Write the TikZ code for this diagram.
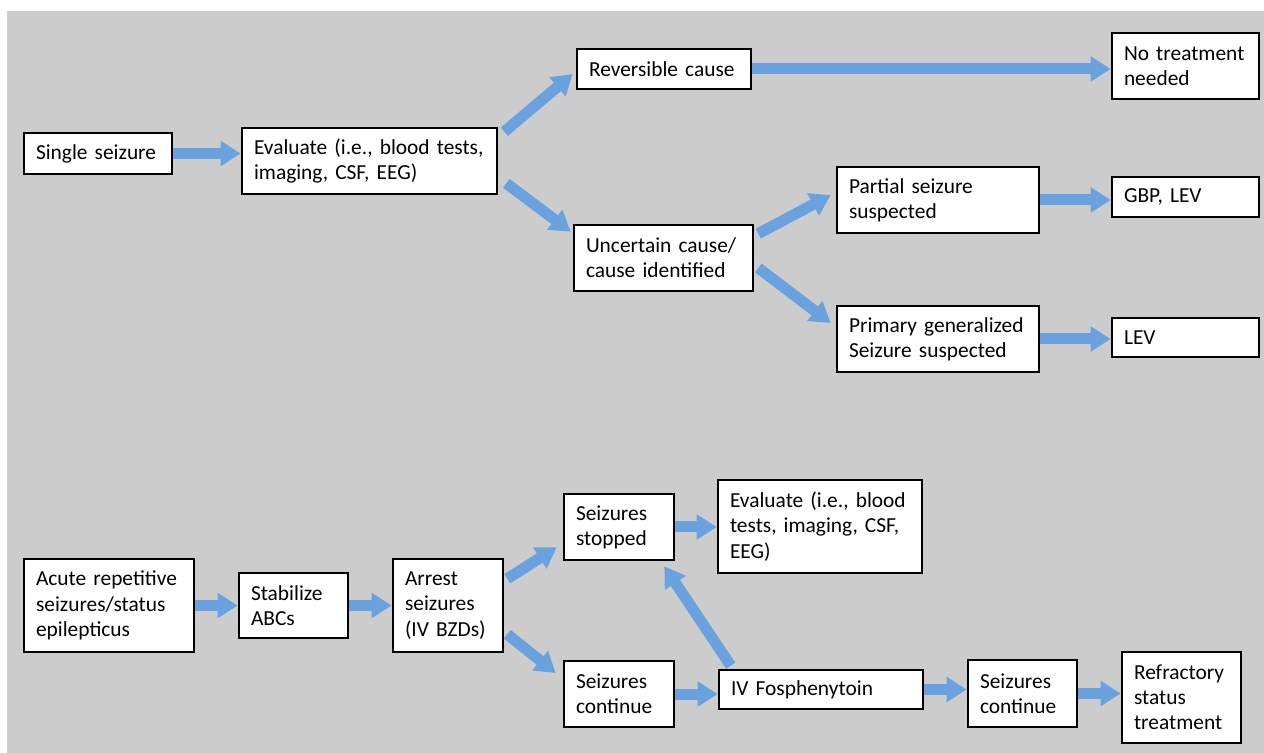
\documentclass[tikz,border=0pt]{standalone}
\usepackage{fontspec}
\setmainfont{Carlito}
\usepackage{tikz}
\usetikzlibrary{positioning, arrows.meta}
\definecolor{panel}{RGB}{204,204,204}
\definecolor{flowblue}{RGB}{106,162,224}

\begin{document}
\begin{tikzpicture}[x=0.5pt, y=-0.5pt,
  box/.style={draw=black, line width=1.3pt, fill=white, align=left,
              inner xsep=6pt, inner ysep=2pt,
              font=\fontsize{10.7}{12.6}\selectfont},
  flow/.style={draw=flowblue, line width=5.5pt,
               -{Triangle[width=12pt, length=10pt]}},
]
  % Background
  \fill[white] (0,0) rectangle (1264,753);
  \fill[panel] (7,11) rectangle (1264,753);

  % Single seizure
  \node[box, text width=62pt, minimum height=20.5pt] (single) at (98,153.5) {Single seizure};
  \node[box, text width=115.5pt, minimum height=33pt] (evalA) at (369.5,161)
    {Evaluate (i.e., blood tests,\\imaging, CSF, EEG)};
  \node[box, text width=75pt, minimum height=20pt] (reversible) at (664,69) {Reversible cause};
  \node[box, text width=61.5pt, minimum height=33pt] (notreat) at (1185.5,66)
    {No treatment\\needed};
  \node[box, text width=77.5pt, minimum height=33pt] (uncertain) at (663.5,258)
    {Uncertain cause/\\cause identified};
  \node[box, text width=89pt, minimum height=33pt] (partial) at (938,200)
    {Partial seizure\\suspected};
  \node[box, text width=61.5pt, minimum height=20pt] (gbp) at (1185.5,197) {GBP, LEV};
  \node[box, text width=89pt, minimum height=33pt] (primary) at (938,339)
    {Primary generalized\\Seizure suspected};
  \node[box, text width=61.5pt, minimum height=19.5pt] (lev) at (1185.5,337.5) {LEV};

  % Status epilepticus
  \node[box, text width=73pt, minimum height=46.5pt] (acute) at (109,605.5)
    {Acute repetitive\\seizures/status\\epilepticus};
  \node[box, text width=42.5pt, minimum height=32.5pt] (stabilize) at (293.5,605.5)
    {Stabilize\\ABCs};
  \node[box, text width=43pt, minimum height=46.5pt] (arrest) at (448,605.5)
    {Arrest\\seizures\\(IV BZDs)};
  \node[box, text width=43pt, minimum height=33pt] (stopped) at (619,527)
    {Seizures\\stopped};
  \node[box, text width=90pt, minimum height=46.5pt] (evalB) at (820,526.5)
    {Evaluate (i.e., blood\\tests, imaging, CSF,\\EEG)};
  \node[box, text width=43pt, minimum height=33pt] (contA) at (619,694)
    {Seizures\\continue};
  \node[box, text width=90pt, minimum height=19.5pt] (fos) at (821,689.5) {IV Fosphenytoin};
  \node[box, text width=42.5pt, minimum height=33.5pt] (contB) at (1022.5,693.5)
    {Seizures\\continue};
  \node[box, text width=47.5pt, minimum height=45.5pt] (refractory) at (1181.5,697.5)
    {Refractory\\status\\treatment};

  % Arrows, top
  \draw[flow] (single.east) -- (single.east -| evalA.west);
  \draw[flow] ([shift={(6,5)}]evalA.north east) -- ([shift={(-3,5)}]reversible.west);
  \draw[flow] ([shift={(8,-12)}]evalA.south east) -- ([shift={(-2,8)}]uncertain.north west);
  \draw[flow] (reversible.east) -- (reversible.east -| notreat.west);
  \draw[flow] ([shift={(4,10)}]uncertain.north east) -- ([shift={(-5,-5)}]partial.west);
  \draw[flow] ([shift={(4,10)}]uncertain.east) -- ([shift={(-5,-16)}]primary.west);
  \draw[flow] (partial.east) -- (partial.east -| gbp.west);
  \draw[flow] (primary.east) -- (primary.east -| lev.west);

  % Arrows, bottom
  \draw[flow] (acute.east) -- (acute.east -| stabilize.west);
  \draw[flow] (stabilize.east) -- (stabilize.east -| arrest.west);
  \draw[flow] ([shift={(3,21)}]arrest.north east) -- ([shift={(-6,-14)}]stopped.south west);
  \draw[flow] ([shift={(3,-19)}]arrest.south east) -- ([shift={(-7,-21)}]contA.west);
  \draw[flow] (stopped.east) -- (stopped.east -| evalB.west);
  \draw[flow] (contA.east) -- (contA.east -| fos.west);
  \draw[flow] ([shift={(13,-3)}]fos.north west) -- ([shift={(-11,5)}]stopped.south east);
  \draw[flow] (fos.east) -- (fos.east -| contB.west);
  \draw[flow] (contB.east) -- (contB.east -| refractory.west);
\end{tikzpicture}
\end{document}
